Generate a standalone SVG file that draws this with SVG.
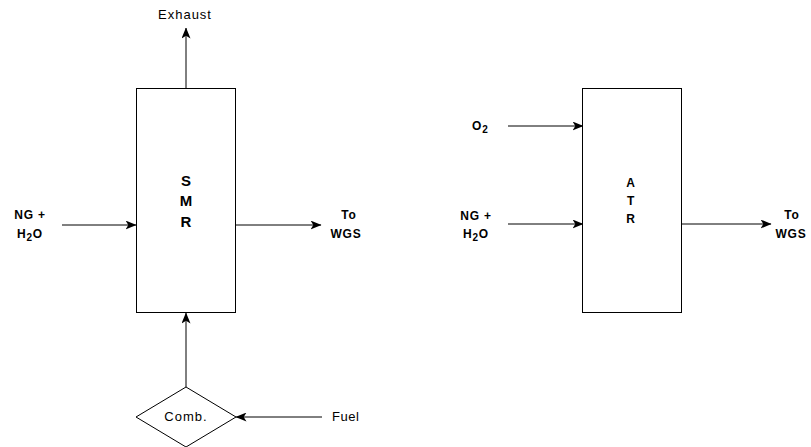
<svg xmlns="http://www.w3.org/2000/svg" width="811" height="447" viewBox="0 0 811 447">
<style>
.box{fill:#fff;stroke:#000;stroke-width:1}
.ln{fill:none;stroke:#000;stroke-width:1;marker-end:url(#ah)}
.t{font-family:"Liberation Sans",Arial,sans-serif;font-size:12px;fill:#000;letter-spacing:0.8px}
.b{font-weight:bold}
.n{font-weight:normal;font-size:13px;letter-spacing:1px}
.big{font-size:15px;letter-spacing:0}
.mid{text-anchor:middle}
.sub{font-size:10px}
</style>
<defs>
<marker id="ah" markerWidth="11" markerHeight="9" refX="10.5" refY="4.5" orient="auto" markerUnits="userSpaceOnUse">
<path d="M0,0 L11,4.5 L0,9 L2.8,4.5 z" fill="#000"/>
</marker>
</defs>
<rect width="811" height="447" fill="#fff"/>
<g id="connectors">
<line class="ln" x1="186" y1="88" x2="186" y2="28"/>
<line class="ln" x1="62" y1="225" x2="136" y2="225"/>
<line class="ln" x1="236" y1="225" x2="321" y2="225"/>
<line class="ln" x1="186" y1="387" x2="186" y2="313"/>
<line class="ln" x1="322" y1="417" x2="236" y2="417"/>
<line class="ln" x1="508" y1="126" x2="583" y2="126"/>
<line class="ln" x1="508" y1="224" x2="583" y2="224"/>
<line class="ln" x1="682" y1="224" x2="771" y2="224"/>
</g>
<g id="smr">
<rect class="box" x="136.5" y="88.5" width="99" height="224"/>
<text class="t b big mid" x="186" y="186">S</text>
<text class="t b big mid" x="186" y="206">M</text>
<text class="t b big mid" x="186" y="227">R</text>
</g>
<g id="comb">
<polygon class="box" points="186,387 236,417 186,447 136,417"/>
<text class="t n mid" x="186" y="421">Comb.</text>
</g>
<g id="atr">
<rect class="box" x="582.5" y="88.5" width="99" height="224"/>
<text class="t b mid" x="631" y="187">A</text>
<text class="t b mid" x="631" y="205">T</text>
<text class="t b mid" x="631" y="223">R</text>
</g>
<g id="labels">
<text class="t n mid" x="185" y="19">Exhaust</text>
<text class="t n" x="332" y="421" style="letter-spacing:0.5px">Fuel</text>
<text class="t b mid" x="30" y="219">NG +</text>
<text class="t b mid" x="30" y="238">H<tspan class="sub" dy="3">2</tspan><tspan dy="-3">O</tspan></text>
<text class="t b mid" x="349" y="219">To</text>
<text class="t b mid" x="346" y="238">WGS</text>
<text class="t b" x="472" y="130">O<tspan class="sub" dy="3">2</tspan></text>
<text class="t b mid" x="476" y="220">NG +</text>
<text class="t b mid" x="476" y="238">H<tspan class="sub" dy="3">2</tspan><tspan dy="-3">O</tspan></text>
<text class="t b mid" x="792" y="219">To</text>
<text class="t b mid" x="791" y="238">WGS</text>
</g>
</svg>
